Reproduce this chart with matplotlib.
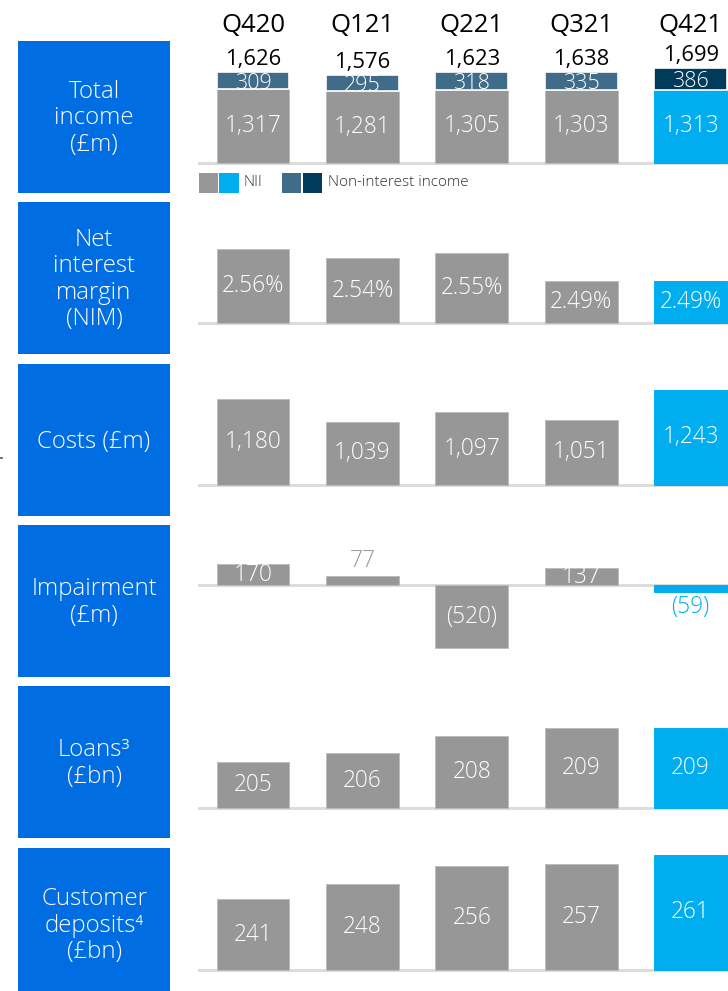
import matplotlib
matplotlib.use("Agg")
import matplotlib.pyplot as plt
from matplotlib.patches import Rectangle
from matplotlib.transforms import blended_transform_factory

plt.rcParams['font.family'] = ['Open Sans', 'DejaVu Sans']

# ---------------- data ----------------
quarters = ['Q420', 'Q121', 'Q221', 'Q321', 'Q421']
total_income = [1626, 1576, 1623, 1638, 1699]
nii = [1317, 1281, 1305, 1303, 1313]
non_interest = [309, 295, 318, 335, 386]
nim = [2.56, 2.54, 2.55, 2.49, 2.49]
costs = [1180, 1039, 1097, 1051, 1243]
impairment = [170, 77, -520, 137, -59]
loans = [205, 206, 208, 209, 209]
deposits = [241, 248, 256, 257, 261]

row_titles = ['Total\nincome\n(£m)', 'Net\ninterest\nmargin\n(NIM)', 'Costs (£m)',
              'Impairment\n(£m)', 'Loans³\n(£bn)', 'Customer\ndeposits⁴\n(£bn)']
legend_labels = ['NII', 'Non-interest income']

# ---------------- style ----------------
W, H = 728, 991
BOX = '#006DE2'
GREY = '#979797'
LBLUE = '#00AEEF'
NONINT = '#406C89'
NAVY = '#003B5C'
BASE = '#DCDCDC'
LIGHT = 300
LBL = 16.3

fig = plt.figure(figsize=(W / 100, H / 100), dpi=100)


def fx(px):
    return px / W


def fy(py):
    return 1 - py / H


# left blue boxes
boxes = [(41, 193), (202, 354), (364, 516), (525, 677), (686, 838), (848, 1000)]
for (t, b), title in zip(boxes, row_titles):
    fig.add_artist(Rectangle((fx(18), fy(b)), fx(170) - fx(18), fy(t) - fy(b),
                             transform=fig.transFigure, color=BOX, lw=0))
    fig.text(fx(94), fy((t + b) / 2 + 1.5), title, ha='center', va='center', color='white',
             fontsize=17.3, fontweight=LIGHT, linespacing=1.14)

# tiny mark at far left
fig.add_artist(plt.Line2D([0, fx(2)], [fy(457.5), fy(457.5)], transform=fig.transFigure,
                          color='#555555', lw=1.2))

AX_L, AX_R = 198, 728
center0, step, barw = 253, 109.4, 0.667


def make_axes(top, bottom, base_px, base_val, ppu):
    ax = fig.add_axes([fx(AX_L), fy(bottom), fx(AX_R) - fx(AX_L), fy(top) - fy(bottom)])
    ax.set_xlim((AX_L - center0) / step, (AX_R - center0) / step)
    ax.set_ylim(base_val - (bottom - base_px) / ppu, base_val + (base_px - top) / ppu)
    ax.axis('off')
    ax.axhline(base_val, color=BASE, lw=2.2, zorder=0)
    return ax


xs = list(range(len(quarters)))
colors = [GREY] * 4 + [LBLUE]
edges = ['#BDBDBD'] * 4 + [LBLUE]

# ---- panel 1: total income ----
PPU1 = 0.0556
ax1 = make_axes(30, 193, 162.7, 0, PPU1)
ax1.bar(xs, nii, width=barw, color=colors, edgecolor=edges, lw=0.7, zorder=2)
top_bars = ax1.bar(xs, non_interest, bottom=nii, width=barw, color=[NONINT] * 4 + [NAVY],
                   edgecolor='white', lw=1.2, zorder=3)
for x, a, b, t, patch in zip(xs, nii, non_interest, total_income, top_bars.patches):
    ax1.text(x, a / 2, f'{a:,}', ha='center', va='center', color='white', fontsize=LBL,
             fontweight=LIGHT, zorder=5)
    txt = ax1.text(x, a + b / 2, f'{b:,}', ha='center', va='center_baseline', color='white',
                   fontsize=15.5, fontweight=LIGHT, zorder=5)
    txt.set_clip_path(patch)
    ax1.text(x, t + 7 / PPU1, f'{t:,}', ha='center', va='baseline', color='black',
             fontsize=15.8, fontweight='medium', zorder=5)
tr = blended_transform_factory(ax1.transData, fig.transFigure)
for x, q in zip(xs, quarters):
    ax1.text(x, fy(32), q, transform=tr, ha='center', va='baseline', fontsize=18.5,
             color='black')

# legend
leg_y0, leg_y1 = 172.7, 192.7
for x0, c in [(198.7, GREY), (219.3, LBLUE), (282, NONINT), (302.7, NAVY)]:
    fig.add_artist(Rectangle((fx(x0), fy(leg_y1)), fx(19.3), fy(leg_y0) - fy(leg_y1),
                             transform=fig.transFigure, color=c, lw=0))
fig.text(fx(244), fy(183), legend_labels[0], ha='left', va='center', fontsize=11,
         color='#333333', fontweight=LIGHT)
fig.text(fx(328), fy(183), legend_labels[1], ha='left', va='center', fontsize=11,
         color='#333333', fontweight=LIGHT)


def simple_panel(ax, vals, fmt, base_val, ppu):
    ax.bar(xs, [v - base_val for v in vals], bottom=base_val, width=barw, color=colors,
           edgecolor=edges, lw=0.7, zorder=2)
    for x, v, c in zip(xs, vals, colors):
        h_px = abs(v - base_val) * ppu
        label = fmt(v)
        if h_px >= 12:
            ax.text(x, (v + base_val) / 2, label, ha='center', va='center', color='white',
                    fontsize=LBL, fontweight=LIGHT, zorder=5)
        else:
            col = '#9B9B9B' if c == GREY else LBLUE
            if v >= base_val:
                ax.text(x, v + 3 / ppu, label, ha='center', va='bottom', color=col,
                        fontsize=LBL, fontweight=LIGHT, zorder=5)
            else:
                ax.text(x, v - 3 / ppu, label, ha='center', va='top', color=col,
                        fontsize=LBL, fontweight=LIGHT, zorder=5)


def num(v):
    return f'({abs(v):,})' if v < 0 else f'{v:,}'


ax2 = make_axes(202, 354, 323.3, 2.40, 467)
simple_panel(ax2, nim, lambda v: f'{v:.2f}%', 2.40, 467)

ax3 = make_axes(364, 516, 485, 634.5, 0.1568)
simple_panel(ax3, costs, num, 634.5, 0.1568)

ax4 = make_axes(525, 677, 585, 0, 0.122)
simple_panel(ax4, impairment, num, 0, 0.122)

ax5 = make_axes(686, 838, 808.3, 199.55, 8.5)
simple_panel(ax5, loans, num, 199.55, 8.5)

ax6 = make_axes(848, 991, 970, 209, 2.215)
simple_panel(ax6, deposits, num, 209, 2.215)

fig.savefig('out.png', dpi=100)
